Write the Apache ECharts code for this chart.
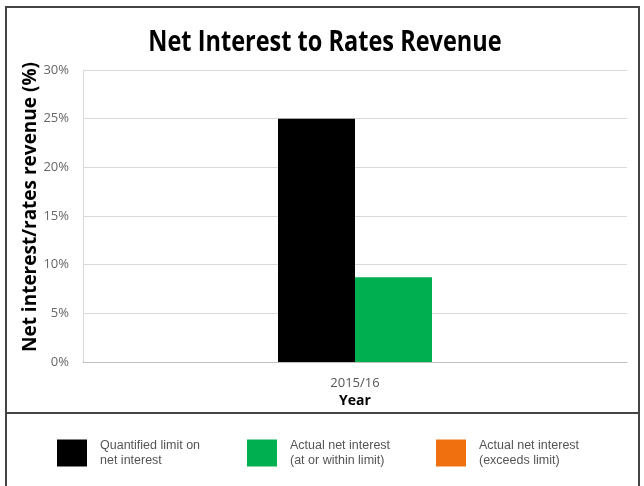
<!DOCTYPE html>
<html>
<head>
<meta charset="utf-8">
<script src="https://cdn.jsdelivr.net/npm/echarts@6/dist/echarts.min.js"></script>
<style>html,body{margin:0;padding:0;background:#fff;}#c{width:644px;height:486px;}</style>
</head>
<body>
<div id="c"></div>
<script>
const chartTitle = 'Net Interest to Rates Revenue';
const categories = ['2015/16'];
const limitValues = [25];
const withinValues = [8.7];
const exceedsValues = [null];
const yTicks = [0, 5, 10, 15, 20, 25, 30];
const seriesNames = ['Quantified limit on\nnet interest', 'Actual net interest\n(at or within limit)', 'Actual net interest\n(exceeds limit)'];
const colors = ['#000000', '#00b050', '#f07010'];

const chart = echarts.init(document.getElementById('c'), null, {renderer: 'canvas'});
const legendBase = {
  orient: 'horizontal', itemWidth: 30, itemHeight: 27, itemGap: 10, padding: 0,
  top: 435, icon: 'rect',
  textStyle: {fontFamily: 'Liberation Sans, Arial', fontSize: 12.5, color: '#555', lineHeight: 15, padding: [6, 0, 0, 8]},
  selectedMode: false
};
chart.setOption({
  animation: false,
  backgroundColor: '#fff',
  legend: [
    Object.assign({}, legendBase, {left: 57, data: [seriesNames[0]]}),
    Object.assign({}, legendBase, {left: 247, data: [seriesNames[1]]}),
    Object.assign({}, legendBase, {left: 436, data: [seriesNames[2]]})
  ],
  grid: {left: 83, right: 17, top: 70, bottom: 124, containLabel: false},
  xAxis: {
    type: 'category', data: categories,
    name: 'Year', nameLocation: 'middle', nameGap: 32, nameMoveOverlap: false,
    nameTextStyle: {fontFamily: 'Open Sans', fontWeight: 'bold', fontSize: 14, color: '#000'},
    axisLine: {lineStyle: {color: '#bfbfbf'}},
    axisTick: {show: false},
    axisLabel: {fontFamily: 'Open Sans', fontSize: 13, color: '#555', margin: 15}
  },
  yAxis: {
    type: 'value', min: yTicks[0], max: yTicks[yTicks.length - 1], interval: 5,
    name: 'Net interest/rates revenue (%)', nameLocation: 'middle', nameGap: 43, nameMoveOverlap: false,
    nameTextStyle: {fontFamily: 'Open Sans', fontWeight: 'bold', fontSize: 19, color: '#000', padding: [0, 0, 0, 18]},
    axisLine: {show: true, lineStyle: {color: '#d9d9d9'}},
    axisTick: {show: false},
    splitLine: {lineStyle: {color: '#d9d9d9'}},
    axisLabel: {fontFamily: 'Open Sans', fontSize: 13, color: '#666', margin: 14, formatter: '{value}%'}
  },
  series: [
    {name: seriesNames[0], type: 'bar', data: limitValues, itemStyle: {color: colors[0]}, barWidth: 77, barGap: '0%'},
    {name: seriesNames[1], type: 'bar', stack: 'actual', data: withinValues, itemStyle: {color: colors[1]}, barWidth: 77},
    {name: seriesNames[2], type: 'bar', stack: 'actual', data: exceedsValues, itemStyle: {color: colors[2]}, barWidth: 77}
  ],
  graphic: [
    {type: 'rect', shape: {x: 6, y: 7, width: 633, height: 490}, style: {fill: 'none', stroke: '#444', lineWidth: 2}, silent: true},
    {type: 'line', shape: {x1: 6, y1: 413, x2: 639, y2: 413}, style: {stroke: '#444', lineWidth: 2}, silent: true},
    {type: 'text', x: 325, y: 43, scaleX: 0.84, silent: true,
     style: {text: chartTitle, align: 'center', verticalAlign: 'middle', fill: '#000',
             font: 'bold 28px "Open Sans"'}}
  ]
});
</script>
</body>
</html>
